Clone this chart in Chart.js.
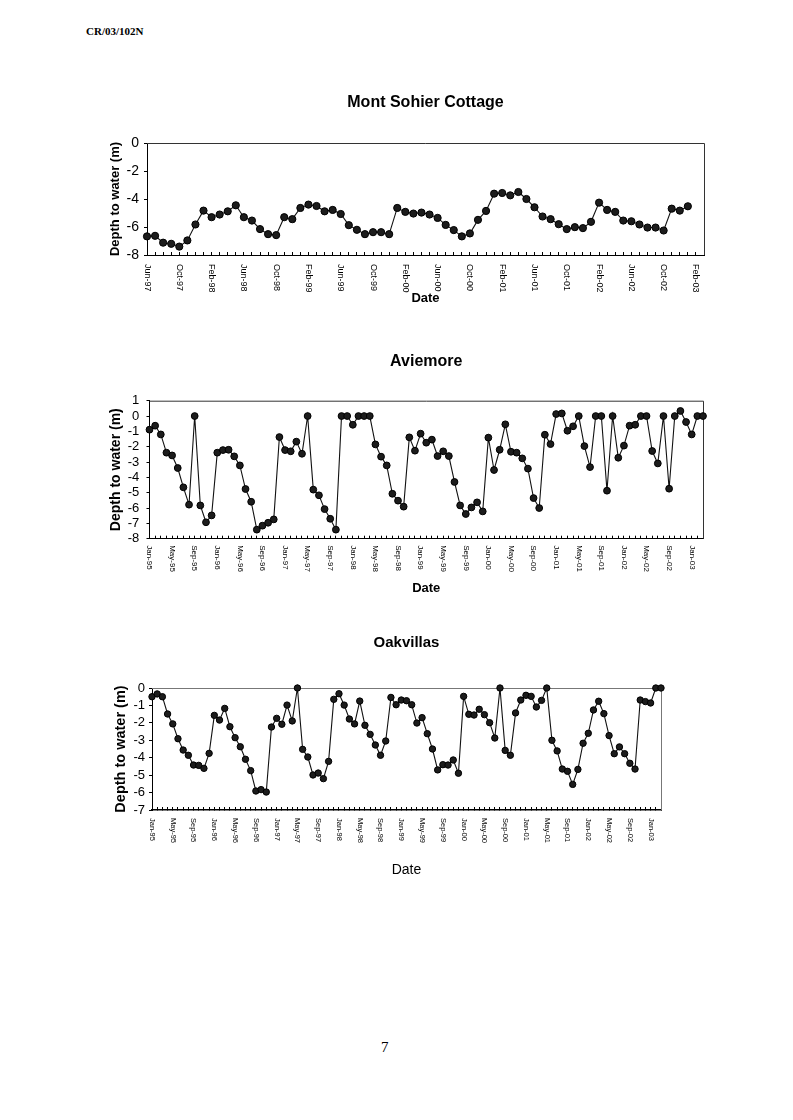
<!DOCTYPE html>
<html>
<head>
<meta charset="utf-8">
<script src="https://cdn.jsdelivr.net/npm/chart.js@4.4.1/dist/chart.umd.min.js"></script>
<style>
  html, body { margin:0; padding:0; background:#fff; }
  #page { position:relative; width:793px; height:1120px; overflow:hidden; background:#fff; }
  canvas { position:absolute; left:0; }
  .txt { position:absolute; color:#000; white-space:nowrap; }
</style>
</head>
<body>
<div id="page">
  <div class="txt" style="left:86px;top:25px;font:bold 11px 'Liberation Serif',serif;">CR/03/102N</div>
  <canvas id="c1" width="793" height="213" style="top:93px"></canvas>
  <canvas id="c2" width="793" height="244" style="top:352px"></canvas>
  <canvas id="c3" width="793" height="245" style="top:634px"></canvas>
  <div class="txt" style="left:381px;top:1039px;font:15px 'Liberation Serif',serif;">7</div>
</div>
<script>
// ---------- data ----------
const MONTH_NAMES = ['Jan','Feb','Mar','Apr','May','Jun','Jul','Aug','Sep','Oct','Nov','Dec'];
function monthLabels(startMonth, startYear, count) {
  const out = [];
  for (let i = 0; i < count; i++) {
    const k = startMonth + i;
    const y = (startYear + Math.floor(k / 12)) % 100;
    out.push(MONTH_NAMES[k % 12] + '-' + String(y).padStart(2, '0'));
  }
  return out;
}
const LABEL_EVERY = 4;

// Mont Sohier Cottage: Jun-97 .. Mar-03 axis, readings Jun-97 .. Jan-03
const montSohierMonths = monthLabels(5, 1997, 70);
const montSohierDepth = [
  -6.67, -6.63, -7.12, -7.20, -7.40, -6.96, -5.82,
  -4.83, -5.30, -5.11, -4.88, -4.45, -5.30, -5.54, -6.15, -6.51, -6.58, -5.30, -5.44,
  -4.64, -4.40, -4.50, -4.88, -4.78, -5.07, -5.87, -6.20, -6.51, -6.37, -6.37, -6.51,
  -4.64, -4.92, -5.04, -4.97, -5.11, -5.35, -5.85, -6.22, -6.67, -6.46, -5.49, -4.85,
  -3.62, -3.57, -3.74, -3.50, -4.00, -4.59, -5.25, -5.44, -5.80, -6.15, -6.01, -6.08,
  -5.63, -4.26, -4.78, -4.92, -5.54, -5.59, -5.82, -6.04, -6.04, -6.25, -4.69, -4.83,
  -4.52
];

// Aviemore: Jan-95 .. Mar-03
const aviemoreMonths = monthLabels(0, 1995, 99);
const aviemoreDepth = [
  -0.89, -0.63, -1.20, -2.39, -2.57, -3.39, -4.65, -5.78, 0.00, -5.83, -6.93, -6.48,
  -2.39, -2.22, -2.20, -2.63, -3.22, -4.76, -5.59, -7.41, -7.15, -6.96, -6.74, -1.37,
  -2.22, -2.30, -1.67, -2.46, 0.00, -4.80, -5.17, -6.07, -6.70, -7.41, 0.00, 0.00,
  -0.57, 0.00, 0.00, 0.00, -1.85, -2.65, -3.22, -5.07, -5.52, -5.91, -1.39, -2.26,
  -1.15, -1.74, -1.54, -2.61, -2.30, -2.61, -4.30, -5.83, -6.39, -5.96, -5.63, -6.22,
  -1.41, -3.52, -2.20, -0.54, -2.33, -2.39, -2.76, -3.43, -5.35, -6.00, -1.22, -1.83,
  0.13, 0.17, -0.96, -0.67, 0.00, -1.96, -3.33, 0.00, 0.00, -4.87, 0.00, -2.72,
  -1.93, -0.63, -0.57, 0.00, 0.00, -2.28, -3.09, 0.00, -4.74, 0.00, 0.33, -0.39,
  -1.20, 0.00, 0.00
];

// Oakvillas: Jan-95 .. Mar-03
const oakvillasMonths = monthLabels(0, 1995, 99);
const oakvillasDepth = [
  -0.50, -0.34, -0.50, -1.49, -2.06, -2.91, -3.56, -3.86, -4.42, -4.44, -4.61, -3.75,
  -1.57, -1.84, -1.17, -2.22, -2.85, -3.37, -4.09, -4.74, -5.91, -5.83, -5.97, -2.24,
  -1.74, -2.08, -0.98, -1.89, 0.00, -3.52, -3.96, -4.99, -4.88, -5.20, -4.21, -0.65,
  -0.33, -0.98, -1.78, -2.06, -0.75, -2.14, -2.66, -3.27, -3.86, -3.04, -0.54, -0.96,
  -0.69, -0.73, -0.96, -2.01, -1.70, -2.62, -3.50, -4.70, -4.40, -4.42, -4.13, -4.89,
  -0.48, -1.51, -1.55, -1.22, -1.53, -1.99, -2.87, 0.00, -3.58, -3.86, -1.43, -0.69,
  -0.42, -0.48, -1.09, -0.71, 0.00, -3.00, -3.61, -4.65, -4.78, -5.53, -4.67, -3.17,
  -2.60, -1.26, -0.76, -1.47, -2.73, -3.77, -3.38, -3.77, -4.32, -4.65, -0.69, -0.78,
  -0.86, 0.00, 0.00
];

// ---------- drawing ----------
const FONT = "'Liberation Sans', Arial, sans-serif";

const monthLabelPlugin = {
  id: 'monthLabels',
  afterDraw(chart, args, opts) {
    const xs = chart.scales.x;
    const labels = chart.data.labels;
    const ctx = chart.ctx;
    ctx.save();
    ctx.font = opts.size + 'px ' + FONT;
    ctx.fillStyle = '#000';
    ctx.textAlign = 'left';
    ctx.textBaseline = 'middle';
    for (let i = 0; i < labels.length; i += opts.every) {
      const x = xs.getPixelForValue(i);
      ctx.save();
      ctx.translate(x, chart.chartArea.bottom + opts.offset);
      ctx.rotate(Math.PI / 2);
      ctx.fillText(labels[i], 0, 0);
      ctx.restore();
    }
    ctx.restore();
  }
};

const framePlugin = {
  id: 'frame',
  beforeDatasetsDraw(chart, args, opts) {
    const a = chart.chartArea;
    const ctx = chart.ctx;
    ctx.save();
    ctx.strokeStyle = opts.color;
    ctx.lineWidth = 1;
    ctx.beginPath();
    ctx.moveTo(a.left, a.top + 0.5);
    ctx.lineTo(a.right + 0.5, a.top + 0.5);
    ctx.lineTo(a.right + 0.5, a.bottom);
    ctx.stroke();
    ctx.restore();
  }
};

function makeChart(id, p) {
  return new Chart(document.getElementById(id), {
    type: 'line',
    data: {
      labels: p.labels,
      datasets: [{
        data: p.values,
        borderColor: '#111',
        borderWidth: 1.1,
        tension: 0,
        pointRadius: p.r,
        pointBackgroundColor: '#1c1c1c',
        pointBorderColor: '#000',
        pointBorderWidth: 1,
        clip: false
      }]
    },
    options: {
      responsive: false,
      animation: false,
      events: [],
      layout: { padding: { left: p.padLeft, right: 793 - p.R, top: 0, bottom: 0 } },
      plugins: {
        legend: { display: false },
        tooltip: { enabled: false },
        title: {
          display: true, text: p.title, fullSize: false, color: '#000',
          font: { family: FONT, size: p.titleSize, weight: 'bold' },
          padding: { top: 0, bottom: p.titlePadB }
        },
        monthLabels: { every: LABEL_EVERY, offset: p.lblOff, size: p.lblSize },
        frame: { color: p.frameColor }
      },
      scales: {
        x: {
          type: 'category',
          offset: false,
          ticks: { display: false },
          grid: { display: true, drawOnChartArea: false, drawTicks: true, tickLength: -3, color: '#000', lineWidth: 1 },
          border: { display: true, color: '#000', width: p.xAxisW },
          title: {
            display: true, text: 'Date', color: '#000',
            font: { family: FONT, size: p.xTitleSize, weight: p.xTitleWeight },
            padding: { top: 0, bottom: 0 }
          },
          afterFit: s => { s.height = p.xH; }
        },
        y: {
          min: p.yMin, max: p.yMax,
          ticks: { stepSize: p.yStep, autoSkip: false, color: '#000', padding: p.yTickPad, font: { family: FONT, size: p.yTickSize } },
          grid: { display: true, drawOnChartArea: false, drawTicks: true, tickLength: 3, color: '#000' },
          border: { display: true, color: '#000', width: 1 },
          title: {
            display: true, text: 'Depth to water (m)', color: '#000',
            font: { family: FONT, size: p.yTitleSize, weight: 'bold' },
            padding: { top: 0, bottom: 0 }
          },
          afterFit: s => { s.width = p.yW; }
        }
      }
    },
    plugins: [monthLabelPlugin, framePlugin]
  });
}

makeChart('c1', {
  labels: montSohierMonths, values: montSohierDepth, title: 'Mont Sohier Cottage',
  padLeft: 107.2, yW: 39.8, R: 704, titleSize: 16, titlePadB: 30.8, xH: 51,
  lblOff: 9, lblSize: 9, yTickSize: 14, yTickPad: 5, yTitleSize: 13,
  xTitleSize: 13, xTitleWeight: 'bold', r: 3.6, yMin: -8, yMax: 0, yStep: 2,
  frameColor: '#333', xAxisW: 1
});
makeChart('c2', {
  labels: aviemoreMonths, values: aviemoreDepth, title: 'Aviemore',
  padLeft: 107.6, yW: 41.9, R: 703, titleSize: 16, titlePadB: 29.5, xH: 57.3,
  lblOff: 6.5, lblSize: 8, yTickSize: 13, yTickPad: 7.2, yTitleSize: 14,
  xTitleSize: 13, xTitleWeight: 'bold', r: 3.4, yMin: -8, yMax: 1, yStep: 1,
  frameColor: '#333', xAxisW: 1
});
makeChart('c3', {
  labels: oakvillasMonths, values: oakvillasDepth, title: 'Oakvillas',
  padLeft: 112.3, yW: 39.7, R: 661, titleSize: 15, titlePadB: 36, xH: 69,
  lblOff: 8, lblSize: 7.5, yTickSize: 13, yTickPad: 4, yTitleSize: 14.5,
  xTitleSize: 14, xTitleWeight: 'normal', r: 3.2, yMin: -7, yMax: 0, yStep: 1,
  frameColor: '#777', xAxisW: 1.5
});
</script>
</body>
</html>
